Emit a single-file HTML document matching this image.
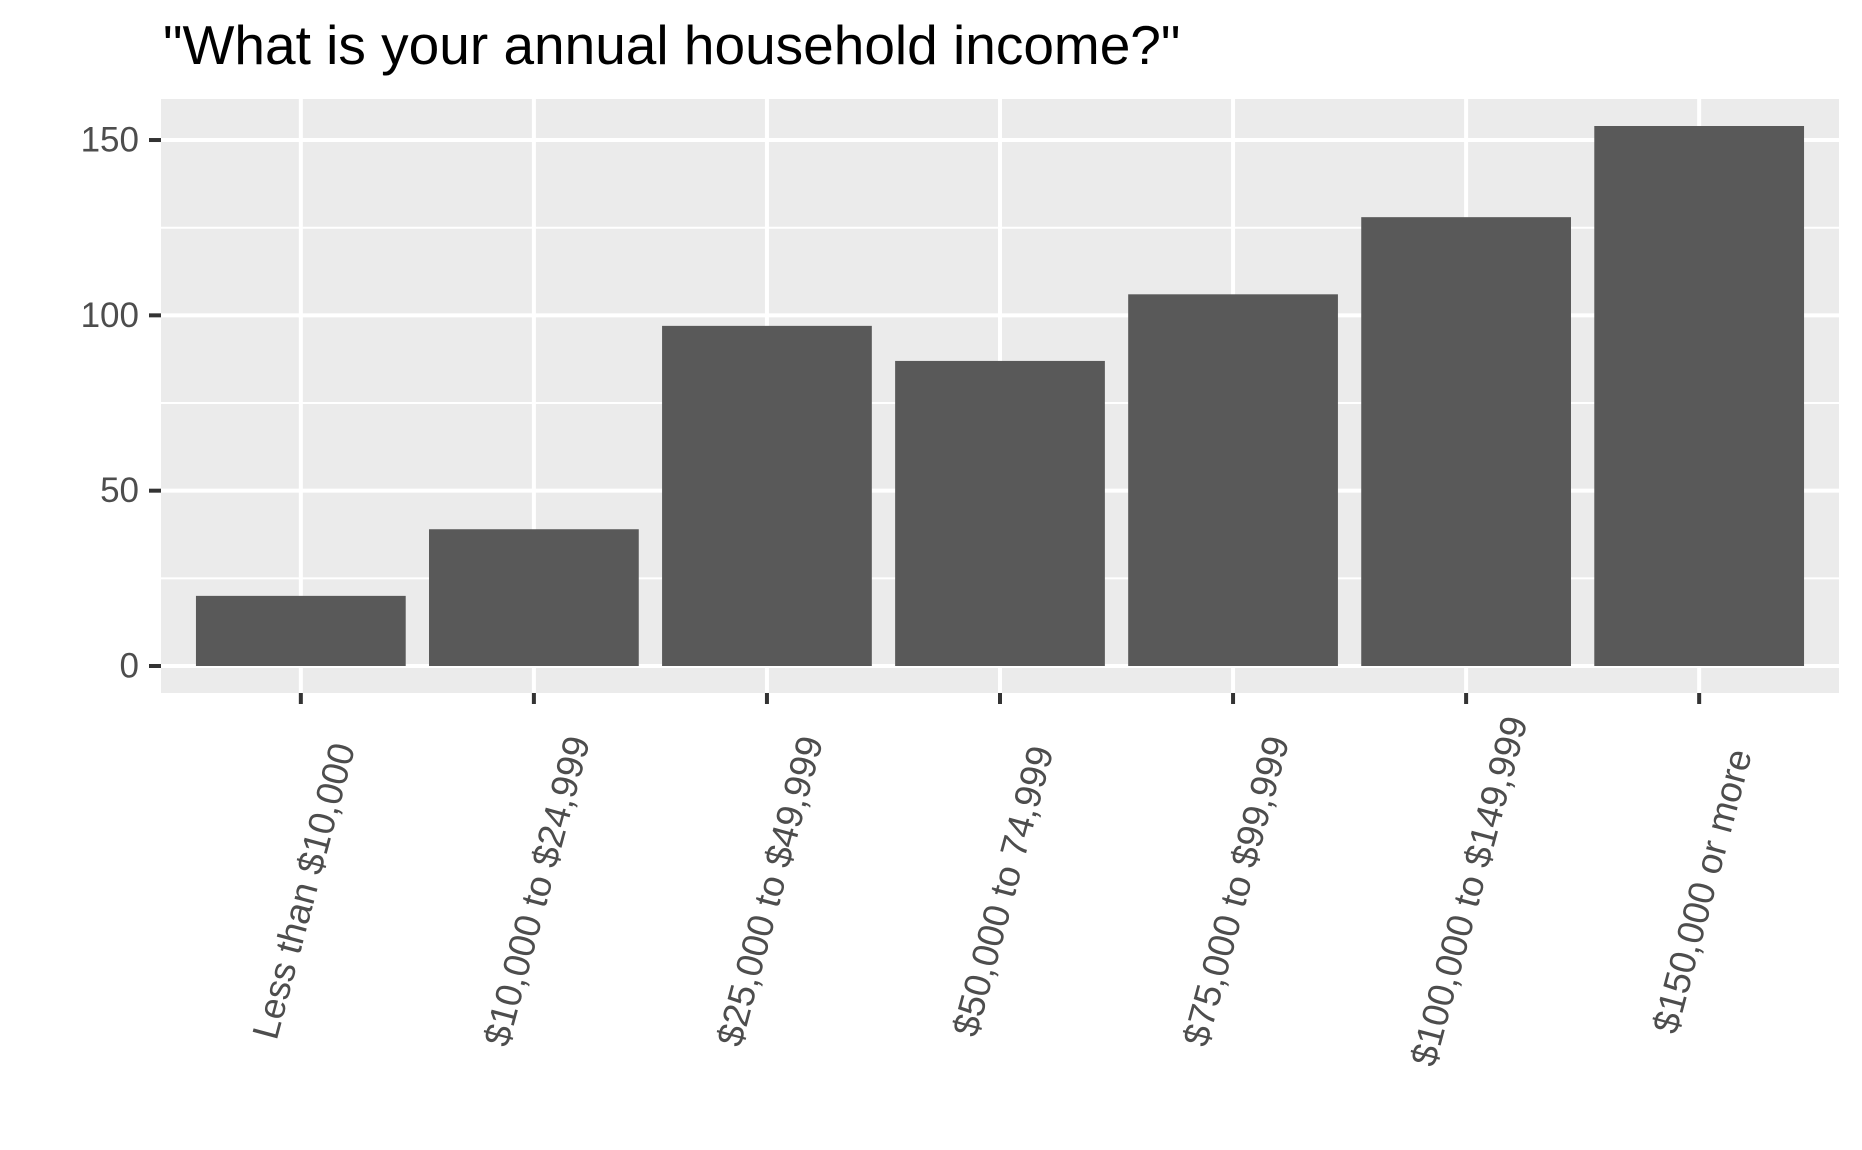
<!DOCTYPE html>
<html><head><meta charset="utf-8"><style>
html,body{margin:0;padding:0;background:#fff;}
svg{display:block;font-family:"Liberation Sans",Arial,sans-serif;}
</style></head><body>
<svg id="chart" width="1862" height="1150" viewBox="0 0 1862 1150">
<rect x="0" y="0" width="1862" height="1150" fill="#fff"/>
<text x="163" y="64" font-size="55" fill="#000">"What is your annual household income?"</text>
<g id="plot"></g>
</svg>
<script>
const categories = ["Less than $10,000","$10,000 to $24,999","$25,000 to $49,999","$50,000 to 74,999","$75,000 to $99,999","$100,000 to $149,999","$150,000 or more"];
const counts = [20, 39, 97, 87, 106, 128, 154];
const yTicks = [0, 50, 100, 150];
const yMinor = [25, 75, 125];

const NS = "http://www.w3.org/2000/svg";
const g = document.getElementById("plot");
const pL = 161, pR = 1839, pT = 99, pB = 693;
const maxV = Math.max(...counts);
const yLo = -0.05*maxV, yHi = maxV*1.05;
function y(v){ return pB - (v - yLo)/(yHi - yLo)*(pB - pT); }
const unit = (pR - pL)/(categories.length + 0.2);
function x(i){ return pL + (i + 0.6)*unit; }
function mk(tag, attrs){ const e = document.createElementNS(NS, tag); for (const k in attrs) e.setAttribute(k, attrs[k]); g.appendChild(e); return e; }

const panel = mk("rect", {x:pL, y:pT, width:pR-pL, height:pB-pT, fill:"#ebebeb"});



yMinor.forEach(v => {
  const l = mk("line", {x1:pL, x2:pR, y1:y(v), y2:y(v), stroke:"#fff", "stroke-width":2});
  
  
});
yTicks.forEach(v => {
  const l = mk("line", {x1:pL, x2:pR, y1:y(v), y2:y(v), stroke:"#fff", "stroke-width":4});
  
  
  const t = mk("line", {x1:pL-12, x2:pL, y1:y(v), y2:y(v), stroke:"#333", "stroke-width":4});
  
  
  const tx = mk("text", {x:pL-22, y:y(v), "font-size":35, fill:"#4d4d4d", "text-anchor":"end", "dominant-baseline":"central"});
  tx.textContent = v;
  
  
});
categories.forEach((c, i) => {
  const l = mk("line", {x1:x(i), x2:x(i), y1:pT, y2:pB, stroke:"#fff", "stroke-width":4});
  
  
});
counts.forEach((v, i) => {
  const w = unit*0.9;
  const b = mk("rect", {x:x(i)-w/2, y:y(v), width:w, height:y(0)-y(v), fill:"#595959"});
  
  
});
categories.forEach((c, i) => {
  const t = mk("line", {x1:x(i), x2:x(i), y1:pB, y2:pB+11, stroke:"#333", "stroke-width":4});
  
  
  const cx = x(i)+3, cy = 891;
  const tx = mk("text", {x:cx, y:cy, "font-size":37, fill:"#4d4d4d", "text-anchor":"middle", "dominant-baseline":"central", transform:`rotate(-75 ${cx} ${cy})`});
  tx.textContent = c;
  
  
});
</script>
</body></html>
